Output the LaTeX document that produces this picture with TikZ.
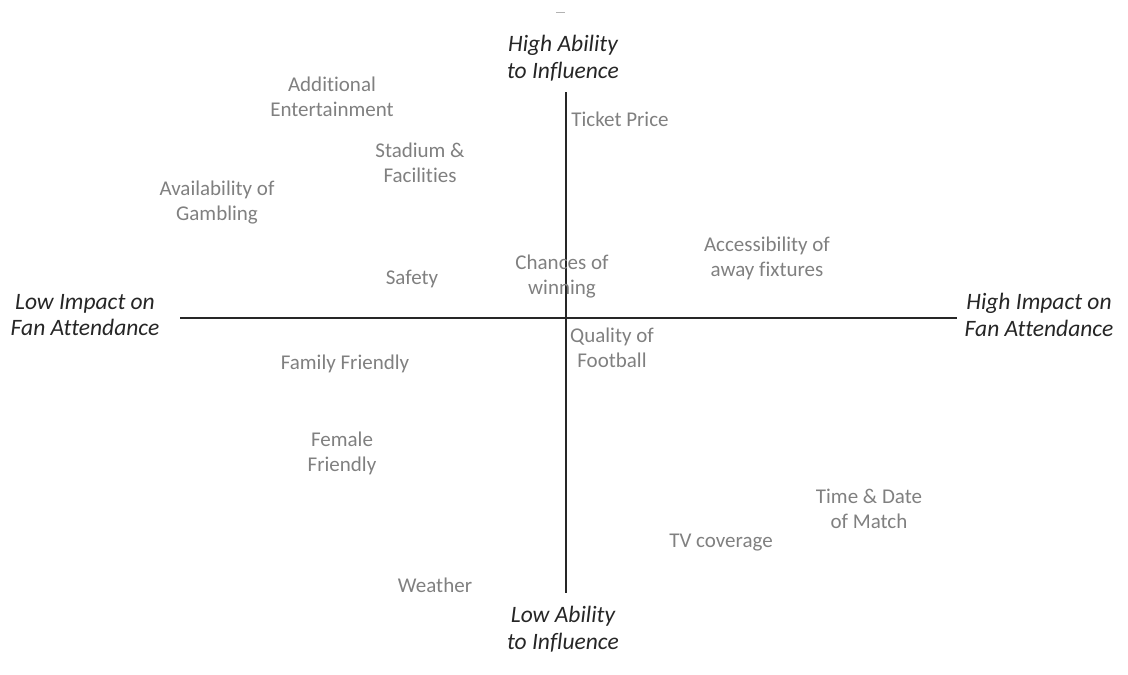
\documentclass[tikz,border=0pt]{standalone}
\usepackage{fontspec}
\setmainfont[Ligatures=NoCommon,RawFeature=-liga]{Carlito}
\begin{document}
\begin{tikzpicture}[x=1pt,y=-1pt,
  item/.style={text=black!50, font=\fontsize{21}{25}\selectfont, align=center, inner sep=0pt},
  axlab/.style={text=black!85, font=\fontsize{23.5}{26.5}\selectfont\itshape, align=center, inner sep=0pt},
  axis/.style={draw=black!85, line width=1.3pt}]
\useasboundingbox (0,0) rectangle (1128,675);
\coordinate (vt) at (566,92);
\coordinate (vb) at (566,593);
\coordinate (hl) at (180,318);
\coordinate (hr) at (957,318);
\draw[axis] (vt) -- (vb);
\draw[axis] (hl) -- (hr);
\coordinate (d1) at (556,12);
\coordinate (d2) at (565,12);
\draw[black!30, line width=0.8pt] (d1) -- (d2);
\node[axlab] (hab) at (563,58) {High Ability\\to Influence};
\node[axlab] (lab) at (563,629) {Low Ability\\to Influence};
\node[axlab] (lim) at (85,315) {Low Impact on\\Fan Attendance};
\node[axlab] (him) at (1039,315) {High Impact on\\Fan Attendance};
\node[item] (addent) at (332,97) {Additional\\Entertainment};
\node[item] (ticket) at (620,119) {Ticket Price};
\node[item] (stadium) at (420,163) {Stadium \&\\Facilities};
\node[item] (gamb) at (217,203) {Availability of\\Gambling};
\node[item] (away) at (767,258) {Accessibility of\\away fixtures};
\node[item] (safety) at (412,279) {Safety};
\node[item] (chances) at (562,277) {Chances of\\winning};
\node[item] (quality) at (612,348) {Quality of\\Football};
\node[item] (family) at (345,364) {Family Friendly};
\node[item] (female) at (342,453) {Female\\Friendly};
\node[item] (timedate) at (869,509) {Time \& Date\\of Match};
\node[item] (tv) at (721,543) {TV coverage};
\node[item] (weather) at (435,585) {Weather};
\end{tikzpicture}
\end{document}
